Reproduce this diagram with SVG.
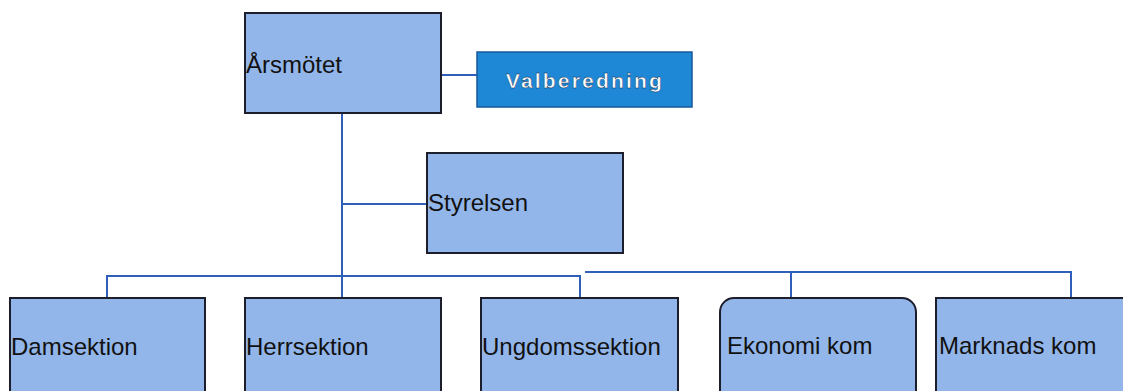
<svg xmlns="http://www.w3.org/2000/svg" width="1123" height="391" viewBox="0 0 1123 391">
<style>
.box{fill:#93b6ea;stroke:#1c1f2b;stroke-width:2}
.lbl{font-family:"Liberation Sans",Arial,sans-serif;font-size:24px;fill:#111}
.conn{stroke:#2f5fb8;stroke-width:2;fill:none}
</style>
<rect width="1123" height="391" fill="#ffffff"/>
<g id="connectors">
<path class="conn" d="M441 75H477"/>
<path class="conn" d="M342 113V298"/>
<path class="conn" d="M342 204H427"/>
<path class="conn" d="M107 298V276H580V298"/>
<path class="conn" d="M585 272H1071V298"/>
<path class="conn" d="M791 272V298"/>
</g>
<g id="arsmotet"><rect class="box" x="245" y="13" width="196" height="100"/><text class="lbl" x="246" y="73">Årsmötet</text></g>
<g id="valberedning"><rect x="477" y="52" width="215" height="55" fill="#1e87d6" stroke="#165a9a" stroke-width="1.5"/><text x="585" y="88" text-anchor="middle" font-family="Liberation Sans,Arial,sans-serif" font-size="21" font-weight="bold" letter-spacing="2.2" fill="#fff" stroke="#0b2a4a" stroke-width="0.4">Valberedning</text></g>
<g id="styrelsen"><rect class="box" x="427" y="153" width="196" height="100"/><text class="lbl" x="428" y="211">Styrelsen</text></g>
<g id="damsektion"><rect class="box" x="10" y="298" width="195" height="110"/><text class="lbl" x="11" y="355">Damsektion</text></g>
<g id="herrsektion"><rect class="box" x="245" y="298" width="196" height="110"/><text class="lbl" x="246" y="355">Herrsektion</text></g>
<g id="ungdomssektion"><rect class="box" x="481" y="298" width="197" height="110"/><text class="lbl" x="482" y="355">Ungdomssektion</text></g>
<g id="ekonomikom"><rect class="box" x="720" y="298" width="196" height="110" rx="14"/><text class="lbl" x="727" y="354">Ekonomi kom</text></g>
<g id="marknadskom"><rect class="box" x="936" y="298" width="200" height="110"/><text class="lbl" x="939" y="354">Marknads kom</text></g>
</svg>
